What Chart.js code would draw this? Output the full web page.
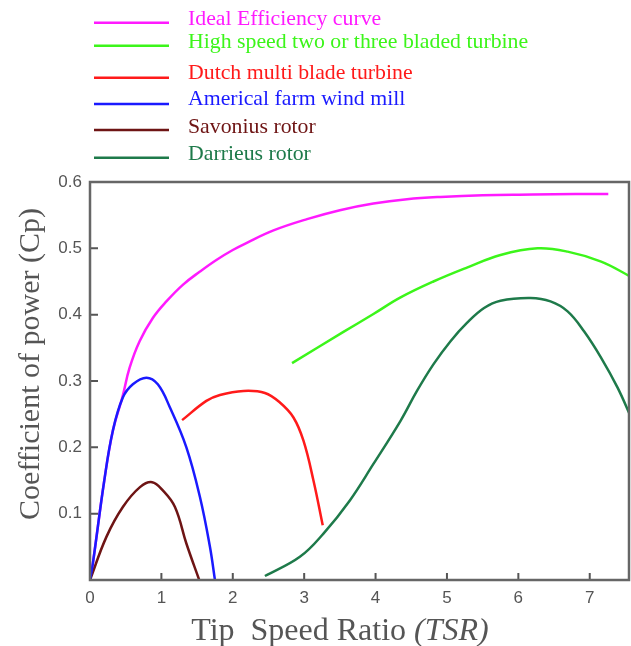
<!DOCTYPE html>
<html><head><meta charset="utf-8">
<script src="https://cdn.jsdelivr.net/npm/chart.js@4.4.1/dist/chart.umd.min.js"></script>
<style>html,body{margin:0;padding:0;background:#fff}</style>
</head><body>
<canvas id="c" width="631" height="646"></canvas>
<script>
// ---- data ----
const seriesNames = [
  "Ideal Efficiency curve",
  "High speed two or three bladed turbine",
  "Dutch multi blade turbine",
  "Americal farm wind mill",
  "Savonius rotor",
  "Darrieus rotor"
];
const idealX = [0, 0.04, 0.2, 0.32, 0.452, 0.555, 0.695, 0.88, 1.07, 1.3, 1.54, 1.77, 2.0, 2.19, 2.57, 3.04, 3.5, 3.97, 4.44, 4.91, 5.5, 6.2, 6.8, 7.26];
const idealY = [0, 0.025, 0.15, 0.225, 0.275, 0.32, 0.36, 0.395, 0.42, 0.445, 0.465, 0.4825, 0.4975, 0.508, 0.527, 0.544, 0.5575, 0.5675, 0.574, 0.5775, 0.58, 0.581, 0.582, 0.582];
const highX = [2.83, 3.55, 3.97, 4.35, 4.81, 5.28, 5.75, 6.27, 6.69, 7.16, 7.57];
const highY = [0.327, 0.374, 0.401, 0.426, 0.45, 0.471, 0.49, 0.5, 0.495, 0.48, 0.4575];
const dutchX = [1.29, 1.63, 1.82, 2.15, 2.45, 2.66, 2.85, 2.99, 3.13, 3.26];
const dutchY = [0.241, 0.27, 0.279, 0.285, 0.282, 0.2675, 0.245, 0.21, 0.15, 0.0825];
const farmX = [0, 0.04, 0.2, 0.32, 0.46, 0.6, 0.79, 0.95, 1.12, 1.35, 1.54, 1.68, 1.75];
const farmY = [0, 0.025, 0.15, 0.225, 0.275, 0.295, 0.305, 0.295, 0.26, 0.2, 0.125, 0.05, 0];
const savX = [0, 0.23, 0.46, 0.7, 0.87, 1.02, 1.19, 1.35, 1.53];
const savY = [0, 0.065, 0.11, 0.14, 0.1475, 0.135, 0.11, 0.055, 0];
const darX = [2.45, 2.94, 3.27, 3.64, 3.97, 4.35, 4.58, 4.81, 5.05, 5.28, 5.52, 5.75, 6.17, 6.45, 6.69, 6.92, 7.16, 7.39, 7.58];
const darY = [0.006, 0.035, 0.07, 0.12, 0.175, 0.24, 0.285, 0.325, 0.36, 0.3875, 0.41, 0.421, 0.425, 0.42, 0.405, 0.375, 0.335, 0.29, 0.245];
const xTicks = [0, 1, 2, 3, 4, 5, 6, 7];
const yTicks = [0.1, 0.2, 0.3, 0.4, 0.5, 0.6];
const xTitle = "Tip  Speed Ratio ";
const xTitleItalic = "(TSR)";
const yTitle = "Coefficient of power (Cp)";

// ---- styles ----
const colors = ["#ff1aff", "#3cf51a", "#ff1a1a", "#1a1aff", "#6e1414", "#1e7a4a"];
const drawOrder = [5, 0, 0, 0, 0, 0];
const xsList = [idealX, highX, dutchX, farmX, savX, darX];
const ysList = [idealY, highY, dutchY, farmY, savY, darY];
const grey = "#555";

const datasets = seriesNames.map((name, i) => ({
  label: name,
  data: xsList[i].map((x, j) => ({ x: x, y: ysList[i][j] })),
  borderColor: colors[i],
  backgroundColor: colors[i],
  borderWidth: 2.5,
  pointRadius: 0,
  tension: 0.4,
  fill: false,
  order: drawOrder[i]
}));

const framePlugin = {
  id: "frame",
  afterDatasetsDraw(chart) {
    const { ctx, chartArea: a, scales } = chart;
    ctx.save();
    ctx.strokeStyle = grey;
    ctx.lineWidth = 2;
    ctx.beginPath();
    xTicks.forEach(v => {
      if (v === 0) return;
      const px = scales.x.getPixelForValue(v);
      ctx.moveTo(px, a.bottom);
      ctx.lineTo(px, a.bottom - 7);
    });
    yTicks.forEach(v => {
      const py = scales.y.getPixelForValue(v);
      ctx.moveTo(a.left, py);
      ctx.lineTo(a.left + 8, py);
    });
    ctx.stroke();
    ctx.strokeStyle = "#666";
    ctx.lineWidth = 2.5;
    ctx.strokeRect(a.left, a.top, a.right - a.left, a.bottom - a.top);
    ctx.restore();
  },
  afterDraw(chart) {
    const { ctx } = chart;
    ctx.save();
    // y title
    ctx.fillStyle = grey;
    ctx.font = "30px 'Liberation Serif'";
    ctx.textAlign = "center";
    ctx.textBaseline = "middle";
    ctx.translate(31, 364);
    ctx.rotate(-Math.PI / 2);
    ctx.fillText(yTitle, 0, 0);
    ctx.restore();
    // x title
    ctx.save();
    ctx.fillStyle = grey;
    ctx.textBaseline = "middle";
    ctx.textAlign = "left";
    const f1 = "32px 'Liberation Serif'";
    const f2 = "italic 32px 'Liberation Serif'";
    ctx.font = f1; const w1 = ctx.measureText(xTitle).width;
    ctx.font = f2; const w2 = ctx.measureText(xTitleItalic).width;
    const cx = 340, cy = 632;
    let sx = cx - (w1 + w2) / 2;
    ctx.font = f1; ctx.fillText(xTitle, sx, cy);
    ctx.font = f2; ctx.fillText(xTitleItalic, sx + w1, cy);
    ctx.restore();
    // legend
    const lineY = [22.7, 45.7, 77.7, 104, 130, 157.7];
    const textY = [19, 42.7, 73.3, 99.3, 127.3, 154.3];
    ctx.save();
    ctx.font = "21.8px 'Liberation Serif'";
    ctx.textBaseline = "middle";
    ctx.textAlign = "left";
    chart.data.datasets.forEach((ds, i) => {
      ctx.strokeStyle = ds.borderColor;
      ctx.lineWidth = 2.5;
      ctx.beginPath();
      ctx.moveTo(94, lineY[i]);
      ctx.lineTo(169, lineY[i]);
      ctx.stroke();
      ctx.fillStyle = ds.borderColor;
      ctx.fillText(ds.label, 188, textY[i]);
    });
    ctx.restore();
  }
};

new Chart(document.getElementById("c"), {
  type: "line",
  data: { datasets: datasets },
  options: {
    responsive: false,
    devicePixelRatio: 1,
    animation: false,
    layout: { padding: { top: 182, right: 2, left: 0, bottom: 0 } },
    plugins: { legend: { display: false }, tooltip: { enabled: false } },
    scales: {
      x: {
        type: "linear", min: 0, max: 7.55,
        grid: { display: false, drawTicks: false },
        border: { display: false },
        ticks: { color: grey, font: { family: "'Liberation Sans'", size: 17 }, padding: 8,
                 callback: v => String(v) },
        afterBuildTicks: s => { s.ticks = xTicks.map(v => ({ value: v })); },
        afterFit: s => { s.height = 66; }
      },
      y: {
        type: "linear", min: 0, max: 0.6,
        grid: { display: false, drawTicks: false },
        border: { display: false },
        ticks: { color: grey, font: { family: "'Liberation Sans'", size: 17 }, padding: 8,
                 callback: v => v.toFixed(1) },
        afterBuildTicks: s => { s.ticks = yTicks.map(v => ({ value: v })); },
        afterFit: s => { s.width = 90; }
      }
    }
  },
  plugins: [framePlugin]
});
</script>
</body></html>
